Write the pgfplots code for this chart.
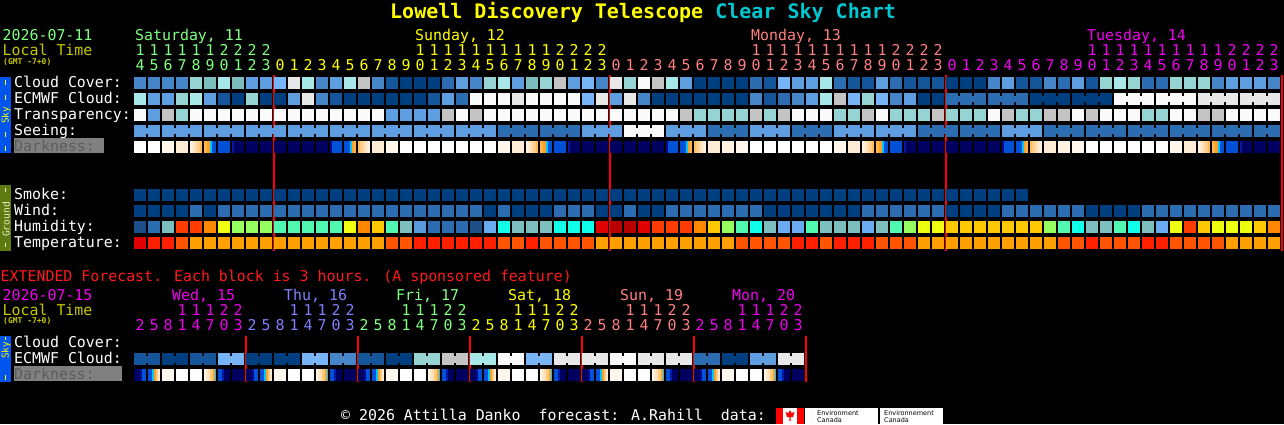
\documentclass[border=0pt]{standalone}
\usepackage{pgfplots}
\pgfplotsset{compat=1.18}
\usepackage{pgfplotstable}
\usepackage{fontspec}
\setmainfont{DejaVu Sans Mono}
\newfontfamily\sansf{DejaVu Sans}
% cloud palette
\definecolor{cA}{HTML}{003F7F}\definecolor{cB}{HTML}{15559A}\definecolor{cC}{HTML}{2C6CB0}
\definecolor{cD}{HTML}{4686C8}\definecolor{cE}{HTML}{5E9EE0}\definecolor{cF}{HTML}{78B4F8}
\definecolor{cG}{HTML}{96D4D4}\definecolor{cH}{HTML}{7CBEBE}\definecolor{cP}{HTML}{A8E8E8}
\definecolor{cI}{HTML}{C4C4C4}\definecolor{cJ}{HTML}{E8E8E8}\definecolor{cK}{HTML}{FAFAFA}
% humidity
\definecolor{hA}{HTML}{1E4E88}\definecolor{hC}{HTML}{2C6CB0}\definecolor{hE}{HTML}{5A9BE0}
\definecolor{hF}{HTML}{6AAAF0}\definecolor{hT}{HTML}{7DBEBE}\definecolor{hQ}{HTML}{50F8B0}
\definecolor{hN}{HTML}{10FFE8}\definecolor{hL}{HTML}{96FF60}\definecolor{hY}{HTML}{EEFF10}
\definecolor{hO}{HTML}{FFC800}\definecolor{hR}{HTML}{FF8800}\definecolor{hS}{HTML}{FF3C00}
\definecolor{hX}{HTML}{E00000}\definecolor{hD}{HTML}{B80000}
% temperature
\definecolor{tX}{HTML}{E00000}\definecolor{tS}{HTML}{FF2000}\definecolor{tU}{HTML}{FF5500}\definecolor{tV}{HTML}{FFA000}
% darkness
\definecolor{dV}{HTML}{FFF7EC}\definecolor{dQ}{HTML}{FFECD4}\definecolor{dU}{HTML}{FFF2E2}
\definecolor{dB}{HTML}{0050D8}\definecolor{dN}{HTML}{000060}\definecolor{dK}{HTML}{000C90}
\definecolor{dKK}{HTML}{0A18A8}\definecolor{dC}{HTML}{00C8FF}\definecolor{dOa}{HTML}{FFB848}
\definecolor{dOb}{HTML}{FF9E28}
\definecolor{ga}{HTML}{FFF3E3}\definecolor{gb}{HTML}{FFEBD0}\definecolor{gc}{HTML}{FFE0B8}
\definecolor{gd}{HTML}{FFD59E}\definecolor{ge}{HTML}{FFC980}\definecolor{gf}{HTML}{FFBC60}
% text
\definecolor{tyel}{HTML}{FFFF00}\definecolor{tcyan}{HTML}{00C8D0}\definecolor{dgreen}{HTML}{80FF80}
\definecolor{dyellow}{HTML}{FFFF00}\definecolor{dsalmon}{HTML}{FF8080}\definecolor{dmag}{HTML}{F000F0}
\definecolor{dlav}{HTML}{8080FF}\definecolor{lt}{HTML}{C8C800}\definecolor{ered}{HTML}{FF1A1A}
\definecolor{skyb}{HTML}{0055EE}\definecolor{grnd}{HTML}{5F7A10}\definecolor{gtext}{HTML}{E6EEC8}
\definecolor{dkbox}{HTML}{808080}\definecolor{dktext}{HTML}{5C5C5C}

\newcommand\strip[3]{\pgfsetfillcolor{#3}\pgfpathrectangle{\pgfpoint{#1pt}{-6pt}}{\pgfpoint{#2pt}{12pt}}\pgfusepathqfill}
\pgfdeclareplotmark{blk}{\pgfpathrectangle{\pgfpoint{-6pt}{-6pt}}{\pgfpoint{12pt}{12pt}}\pgfusepathqfill}
\pgfdeclareplotmark{barc}{\pgfpathrectangle{\pgfpoint{-6pt}{-3pt}}{\pgfpoint{40pt}{6pt}}\pgfusepathqfill}
\pgfdeclareplotmark{barb}{\pgfpathrectangle{\pgfpoint{-6pt}{-3pt}}{\pgfpoint{26pt}{6pt}}\pgfusepathqfill}
\pgfdeclareplotmark{barx}{\pgfpathrectangle{\pgfpoint{-6pt}{-3.5pt}}{\pgfpoint{26pt}{7pt}}\pgfusepathqfill}
\pgfdeclareplotmark{dkE}{\strip{-6}{2}{ga}\strip{-4}{2}{gb}\strip{-2}{2}{gc}\strip{0}{2}{gd}\strip{2}{2}{ge}\strip{4}{2}{gf}}
\pgfdeclareplotmark{dkM}{\strip{-6}{2}{gf}\strip{-4}{2}{ge}\strip{-2}{2}{gd}\strip{0}{2}{gc}\strip{2}{2}{gb}\strip{4}{2}{ga}}
\pgfdeclareplotmark{dkS}{\strip{-6}{3}{dOa}\strip{-3}{3}{dOb}\strip{0}{2}{dC}\strip{2}{4}{dB}}
\pgfdeclareplotmark{dkR}{\strip{-6}{6}{dB}\strip{0}{2}{dC}\strip{2}{2}{dOb}\strip{4}{2}{dOa}}
\pgfdeclareplotmark{dkG}{\strip{-6}{2}{dKK}\strip{-4}{10}{dN}}
\pgfdeclareplotmark{dkH}{\strip{-6}{2}{dK}\strip{-4}{10}{dB}}
\pgfdeclareplotmark{dkP}{\strip{-6}{6}{dN}\strip{0}{2}{dK}\strip{2}{4}{dB}}
\pgfdeclareplotmark{dkQ}{\strip{-6}{4}{dB}\strip{-2}{2}{dC}\strip{0}{2}{dOb}\strip{2}{2}{ge}\strip{4}{2}{gb}}
\pgfdeclareplotmark{dkT}{\strip{-6}{3}{ga}\strip{-3}{3}{gc}\strip{0}{3}{ge}\strip{3}{2}{dOb}\strip{5}{1}{dC}}
\pgfdeclareplotmark{dkD}{\strip{-6}{4}{dB}\strip{-2}{2}{dKK}\strip{0}{6}{dN}}

\pgfplotsset{
 sym/.style={scatter, only marks, scatter src=explicit symbolic},
 cloudcls/.style={sym, scatter/classes={a={mark=#1,color=cA}, b={mark=#1,color=cB}, c={mark=#1,color=cC},
   d={mark=#1,color=cD}, e={mark=#1,color=cE}, f={mark=#1,color=cF}, g={mark=#1,color=cG},
   h={mark=#1,color=cH}, p={mark=#1,color=cP}, i={mark=#1,color=cI}, j={mark=#1,color=cJ},
   k={mark=#1,color=cK}, z={mark=#1,color=black}}},
 humcls/.style={sym, scatter/classes={A={mark=blk,color=hA}, c={mark=blk,color=hC}, e={mark=blk,color=hE},
   f={mark=blk,color=hF}, t={mark=blk,color=hT}, q={mark=blk,color=hQ}, n={mark=blk,color=hN},
   l={mark=blk,color=hL}, y={mark=blk,color=hY}, o={mark=blk,color=hO}, r={mark=blk,color=hR},
   s={mark=blk,color=hS}, x={mark=blk,color=hX}, X={mark=blk,color=hD}}},
 tempcls/.style={sym, scatter/classes={x={mark=blk,color=tX}, s={mark=blk,color=tS}, u={mark=blk,color=tU}, v={mark=blk,color=tV}}},
 darkcls/.style={sym, scatter/classes={w={mark=blk,color=white}, v={mark=blk,color=dV}, q={mark=blk,color=dQ},
   u={mark=blk,color=dU}, B={mark=blk,color=dB}, N={mark=blk,color=dN}, E={mark=dkE}, M={mark=dkM},
   S={mark=dkS}, R={mark=dkR}, G={mark=dkG}, H={mark=dkH}, P={mark=dkP}, Q={mark=dkQ}, T={mark=dkT}, D={mark=dkD}}},
}

\pgfplotstableread{
i cc ec tr se dk sm wi hu te
0 d p k e w a a A x
1 d e e e w a a c s
2 d e i e v a a t s
3 d g g e q a a s u
4 g p k e E a c s v
5 h e k e S a a r v
6 p b k e B a c y v
7 h a k e G a c l v
8 e g k e N a c l v
9 e a k e N a c l v
10 f a k e N a c q v
11 j e k e N a c q v
12 p j k e N a c q v
13 d d k e N a c q v
14 e b k e H a c q v
15 p a k e R a c y v
16 i a k e M a c r v
17 d a k e q a c o v
18 b a e e v a c q u
19 a a e e w a c t u
20 a a e e w a c e s
21 a b e e w a c c s
22 c e i e w a c c s
23 e c k e w a c c s
24 d k i e w a c A s
25 g k k e w a a f s
26 p k k c v a c n u
27 e j k c q a a t u
28 h k k c E a a t s
29 g k k c S a a t u
30 i k k c B a c n u
31 e k k c G a c n u
32 f f k e N a c n u
33 d j k e N a a x v
34 j e k e N a a X v
35 g j k k N a c X v
36 k d k k N a a x v
37 i a k k N a a s v
38 p a k e H a c s v
39 e a i e R a c s v
40 a a g e M a c r v
41 a a g c q a c o v
42 a a g c u a c l v
43 a a g c v a c q u
44 c d i e w a c n u
45 b b g e w a a t u
46 f c i e w a a f u
47 e d k c w a a f s
48 e e k c w a a q s
49 p p k c w a a t u
50 c i g e v a a t s
51 b f g e q a a t s
52 b g i e E a c f s
53 e f k e S a c t u
54 c d g e B a c q u
55 b e g e G a c l u
56 b a g c N a c y v
57 b a i c N a c y v
58 a c g c N a a o v
59 a c g c N a a o v
60 a c g c N a a o v
61 d c k c N a a o v
62 e c i e H a c o v
63 b c g e R a c o v
64 b a g e M z c o v
65 d a i c q z c l v
66 c a i c u z c q u
67 e a k c v z c n u
68 b a i c w z a t s
69 g a k c w z a t u
70 p k k c w z a q u
71 g k k c w z a n u
72 c k g c w z c t s
73 c k g c w z c f s
74 g k k c v z c y u
75 g k k c q z c s u
76 g j i c E z c o u
77 d j i c S z c y u
78 e j k c B z c y v
79 e j k c G z c y v
80 e j k c N z c o v
81 d j k c N z c r v
}\maindata

\pgfplotstableread{
s c
2 e
5 e
8 e
11 e
14 e
17 e
20 e
23 e
26 c
29 c
32 e
35 k
38 e
41 c
44 e
47 c
50 e
53 e
56 c
59 c
62 e
65 c
68 c
71 c
74 c
77 c
}\seethree

\pgfplotstableread{
s c
0 e
80 c
}\seetwo

\pgfplotstableread{
s c
58 c
61 c
64 a
67 a
70 k
73 k
76 j
79 j
}\ecthree

\pgfplotstableread{
k ec dk
0 b P
1 b Q
2 a v
3 a w
4 b w
5 b T
6 f D
7 f N
8 a P
9 a Q
10 a v
11 a w
12 f w
13 f T
14 d D
15 d N
16 b P
17 b Q
18 a v
19 a w
20 g w
21 g T
22 i D
23 i N
24 p P
25 p Q
26 k v
27 k w
28 f w
29 f T
30 j D
31 j N
32 j P
33 j Q
34 k v
35 k w
36 j w
37 j T
38 j D
39 j N
40 c P
41 c Q
42 a v
43 a w
44 e w
45 e T
46 j D
47 j N
}\extdata

\pgfplotstableread{
s c
0 b
2 a
4 b
6 f
8 a
10 a
12 f
14 d
16 b
18 a
20 g
22 i
24 p
26 k
28 f
30 j
32 j
34 k
36 j
38 j
40 c
42 a
44 e
46 j
}\extpairs

\newcommand\lbl{\fontsize{14.9}{15}\selectfont}
\newcommand\tx[4]{\node[anchor=base west, inner sep=0pt, text=#3, font=\lbl] at (#1pt,-#2pt) {#4};}

\begin{document}
\begin{tikzpicture}
\useasboundingbox (0,0) rectangle (1284pt,-424pt);
\fill[black] (0,0) rectangle (1284pt,-424pt);
\begin{axis}[x=1pt, y=1pt, y dir=reverse, xmin=0, xmax=1284, ymin=0, ymax=424,
  hide axis, clip=false, at={(0,0)}, anchor=north west]
% main grid
\addplot[cloudcls=blk] table[x expr=140+14*\thisrow{i}, y expr=83, meta=cc] {\maindata};
\addplot[cloudcls=blk] table[x expr=140+14*\thisrow{i}, y expr=99, meta=ec] {\maindata};
\addplot[cloudcls=barc] table[x expr=140+14*\thisrow{s}, y expr=99, meta=c] {\ecthree};
\addplot[cloudcls=blk] table[x expr=140+14*\thisrow{i}, y expr=115, meta=tr] {\maindata};
\addplot[cloudcls=blk] table[x expr=140+14*\thisrow{i}, y expr=131, meta=se] {\maindata};
\addplot[cloudcls=barc] table[x expr=140+14*\thisrow{s}, y expr=131, meta=c] {\seethree};
\addplot[cloudcls=barb] table[x expr=140+14*\thisrow{s}, y expr=131, meta=c] {\seetwo};
\addplot[darkcls] table[x expr=140+14*\thisrow{i}, y expr=147, meta=dk] {\maindata};
\addplot[cloudcls=blk] table[x expr=140+14*\thisrow{i}, y expr=195, meta=sm] {\maindata};
\addplot[cloudcls=blk] table[x expr=140+14*\thisrow{i}, y expr=211, meta=wi] {\maindata};
\addplot[humcls] table[x expr=140+14*\thisrow{i}, y expr=227, meta=hu] {\maindata};
\addplot[tempcls] table[x expr=140+14*\thisrow{i}, y expr=243, meta=te] {\maindata};
% extended
\addplot[cloudcls=blk] table[x expr=140+14*\thisrow{k}, y expr=359, meta=ec] {\extdata};
\addplot[cloudcls=barx] table[x expr=140+14*\thisrow{s}, y expr=359, meta=c] {\extpairs};
\addplot[darkcls] table[x expr=140+14*\thisrow{k}, y expr=375, meta=dk] {\extdata};
% day separators
\pgfplotsinvokeforeach{274,610,946,1282}{\addplot[red, line width=2pt, mark=none] coordinates {(#1,75) (#1,251)};}
\pgfplotsinvokeforeach{246,358,470,582,694,806}{\addplot[red, line width=2pt, mark=none] coordinates {(#1,336) (#1,382)};}
\end{axis}

% title
\node[anchor=base west, inner sep=0pt, font=\fontsize{20}{20}\selectfont\bfseries] at (390pt,-18.5pt)
  {\textcolor{tyel}{Lowell Discovery Telescope} \textcolor{tcyan}{Clear Sky Chart}};
% left header
\tx{2.5}{40}{dgreen}{2026-07-11}
\tx{2.5}{55}{lt}{Local Time}
\node[anchor=base west, inner sep=0pt, text=lt, font=\fontsize{8}{8}\selectfont\bfseries] at (3pt,-64.5pt) {(GMT -7+0)};
\tx{135}{40}{dgreen}{Saturday, 11}
\tx{415}{40}{dyellow}{Sunday, 12}
\tx{751}{40}{dsalmon}{Monday, 13}
\tx{1087}{40}{dmag}{Tuesday, 14}
% hour digits
\foreach \c in {0,...,81}{%
  \pgfmathtruncatemacro\hh{mod(\c+14,24)}%
  \pgfmathtruncatemacro\hU{mod(\hh,10)}%
  \pgfmathtruncatemacro\hT{floor(\hh/10)}%
  \ifnum\c<10 \def\dc{dgreen}\else\ifnum\c<34 \def\dc{dyellow}\else\ifnum\c<58 \def\dc{dsalmon}\else\def\dc{dmag}\fi\fi\fi
  \node[anchor=base, inner sep=0pt, text=\dc, font=\lbl] at ({140pt+14pt*\c},-70pt) {\hU};
  \ifnum\hh>9 \node[anchor=base, inner sep=0pt, text=\dc, font=\lbl] at ({140pt+14pt*\c},-55pt) {\hT};\fi
}
% row labels
\fill[skyb] (0,-77pt) rectangle (11pt,-153pt);
\foreach \a/\b in {80/85,95/100,132/137,146/151}{\draw[tyel, line width=1.3pt] (5.5pt,-\a pt) -- (5.5pt,-\b pt);}
\node[rotate=90, inner sep=0pt, text=tyel, font=\fontsize{9.4}{9.4}\selectfont] at (6pt,-115.5pt) {Sky};
\tx{14}{87.3}{white}{Cloud Cover:}
\tx{14}{103.3}{white}{ECMWF Cloud:}
\tx{14}{119.3}{white}{Transparency:}
\tx{14}{135.3}{white}{Seeing:}
\fill[dkbox] (14pt,-138pt) rectangle (104pt,-153pt);
\tx{14}{151.3}{dktext}{Darkness:}
\fill[grnd] (0,-185pt) rectangle (11pt,-251pt);
\foreach \a/\b in {188/192,243/247}{\draw[gtext, line width=1.3pt] (5.5pt,-\a pt) -- (5.5pt,-\b pt);}
\node[rotate=90, inner sep=0pt, text=gtext, font=\fontsize{9.6}{9.6}\selectfont] at (6pt,-219.5pt) {Ground};
\tx{14}{199.3}{white}{Smoke:}
\tx{14}{215.3}{white}{Wind:}
\tx{14}{231.3}{white}{Humidity:}
\tx{14}{247.3}{white}{Temperature:}
% extended header
\tx{0.5}{281}{ered}{EXTENDED Forecast. Each block is 3 hours. (A sponsored feature)}
\tx{2.5}{300}{dmag}{2026-07-15}
\tx{2.5}{315}{lt}{Local Time}
\node[anchor=base west, inner sep=0pt, text=lt, font=\fontsize{8}{8}\selectfont\bfseries] at (3pt,-323.5pt) {(GMT -7+0)};
\tx{172}{300}{dmag}{Wed, 15}
\tx{284}{300}{dlav}{Thu, 16}
\tx{396}{300}{dgreen}{Fri, 17}
\tx{508}{300}{dyellow}{Sat, 18}
\tx{620}{300}{dsalmon}{Sun, 19}
\tx{732}{300}{dmag}{Mon, 20}
\foreach \k in {0,...,47}{%
  \pgfmathtruncatemacro\dd{floor(\k/8)}%
  \pgfmathtruncatemacro\hh{2+3*mod(\k,8)}%
  \pgfmathtruncatemacro\hU{mod(\hh,10)}%
  \pgfmathtruncatemacro\hT{floor(\hh/10)}%
  \ifcase\dd \def\dc{dmag}\or\def\dc{dlav}\or\def\dc{dgreen}\or\def\dc{dyellow}\or\def\dc{dsalmon}\else\def\dc{dmag}\fi
  \node[anchor=base, inner sep=0pt, text=\dc, font=\lbl] at ({140pt+14pt*\k},-330pt) {\hU};
  \ifnum\hh>9 \node[anchor=base, inner sep=0pt, text=\dc, font=\lbl] at ({140pt+14pt*\k},-315pt) {\hT};\fi
}
\fill[skyb] (0,-336pt) rectangle (11pt,-382pt);
\foreach \a/\b in {336.5/340,375/380}{\draw[tyel, line width=1.3pt] (5.5pt,-\a pt) -- (5.5pt,-\b pt);}
\node[rotate=90, inner sep=0pt, text=tyel, font=\fontsize{9.4}{9.4}\selectfont] at (6pt,-350.5pt) {Sky};
\tx{14}{347.3}{white}{Cloud Cover:}
\tx{14}{363.3}{white}{ECMWF Cloud:}
\fill[dkbox] (14pt,-366pt) rectangle (122pt,-381pt);
\tx{14}{379.3}{dktext}{Darkness:}
% footer
\tx{341}{420}{white}{© 2026 Attilla Danko~~forecast: A.Rahill~~data:}
\fill[red] (776pt,-408pt) rectangle (804pt,-424pt);
\fill[white] (783pt,-408pt) rectangle (797pt,-424pt);
\fill[red] (790pt,-410pt) -- (791.5pt,-413pt) -- (794.5pt,-412pt) -- (793pt,-417pt) -- (790.7pt,-417pt) -- (790.7pt,-421pt) -- (789.3pt,-421pt) -- (789.3pt,-417pt) -- (787pt,-417pt) -- (785.5pt,-412pt) -- (788.5pt,-413pt) -- cycle;
\fill[white] (805pt,-408pt) rectangle (878pt,-424pt);
\fill[white] (880pt,-408pt) rectangle (943pt,-424pt);
\begin{scope}
\clip (880pt,-408pt) rectangle (943pt,-424pt);
\node[anchor=base west, inner sep=0pt, font=\sansf\fontsize{6.5}{6.5}\selectfont] at (884pt,-415pt) {Environnement};
\node[anchor=base west, inner sep=0pt, font=\sansf\fontsize{6.5}{6.5}\selectfont] at (884pt,-422.5pt) {Canada};
\end{scope}
\node[anchor=base west, inner sep=0pt, font=\sansf\fontsize{6.5}{6.5}\selectfont] at (817pt,-415pt) {Environment};
\node[anchor=base west, inner sep=0pt, font=\sansf\fontsize{6.5}{6.5}\selectfont] at (817pt,-422.5pt) {Canada};
\end{tikzpicture}
\end{document}
